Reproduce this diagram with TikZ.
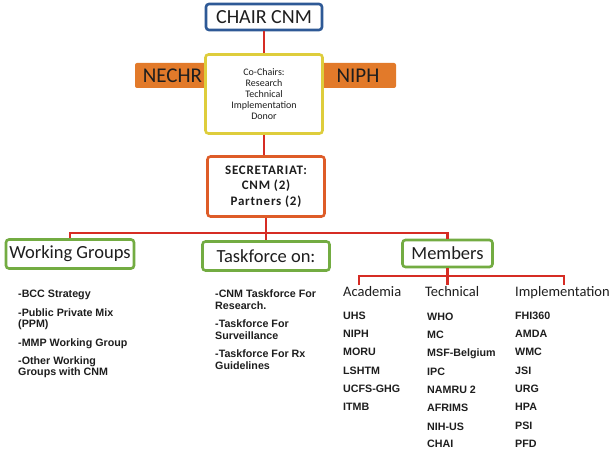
\documentclass[tikz,border=0pt]{standalone}
\usepackage{fontspec}
\setmainfont{Carlito}
\newfontfamily\listfont{Liberation Sans}
\definecolor{cblue}{RGB}{46,89,150}
\definecolor{cred}{RGB}{214,44,36}
\definecolor{corange}{RGB}{226,122,42}
\definecolor{cyellow}{RGB}{222,205,60}
\definecolor{csec}{RGB}{222,92,40}
\definecolor{cgreen}{RGB}{115,172,66}
\definecolor{ctext}{RGB}{30,30,30}
\tikzset{
  box/.style={draw, rounded corners=3pt, line width=2.6pt, fill=white, inner sep=0pt, align=center, text=ctext},
  orangebox/.style={fill=corange, rounded corners=2pt, inner sep=0pt, minimum height=25pt, text=ctext, font=\fontsize{21}{22}\selectfont},
  greenbox/.style={box, draw=cgreen, minimum height=29pt, font=\fontsize{18.5}{20}\selectfont},
  link/.style={draw=cred, line width=2.1pt},
  head/.style={anchor=base west, inner sep=0pt, text=ctext, font=\fontsize{14.5}{16}\selectfont},
  item/.style={anchor=base west, inner sep=0pt, text=ctext, font=\listfont\bfseries\fontsize{10.7}{12}\selectfont},
}
\begin{document}
\begin{tikzpicture}[x=1pt,y=-1pt]
\useasboundingbox[fill=white] (0,0) rectangle (614,449);

% orange side boxes (behind co-chairs box)
\node[orangebox, minimum width=75pt] (nechr) at (172.5,75.5) {NECHR};
\node[orangebox, minimum width=76pt] (niph) at (358,75.5) {NIPH};

% main chain
\node[box, draw=cblue, minimum width=116pt, minimum height=26pt, font=\fontsize{20}{21}\selectfont] (chair) at (264,17) {CHAIR CNM};
\node[box, draw=cyellow, minimum width=117pt, minimum height=79pt, font=\fontsize{10}{11}\selectfont] (cochair) at (264,94) {Co-Chairs:\\Research\\Technical\\Implementation\\Donor};
\node[box, draw=csec, minimum width=117pt, minimum height=60pt, font=\bfseries\fontsize{13}{15.5}\selectfont\addfontfeature{LetterSpace=6}] (sec) at (266,186.5) {SECRETARIAT:\\CNM (2)\\Partners (2)};

\node[greenbox, minimum width=128pt] (wg) at (70,254) {Working Groups};
\node[greenbox, minimum width=127pt] (task) at (266,256) {Taskforce on:};
\node[greenbox, minimum width=90pt, minimum height=27pt] (mem) at (447.5,253.5) {Members};

\coordinate (bus) at (266,233);
\coordinate (ma) at (359,285);
\coordinate (mt) at (447.5,285);
\coordinate (mi) at (564,285);

\draw[link] (chair.south) -- (cochair.north);
\draw[link] (cochair.south) -- (cochair.south |- sec.north);
\draw[link] (sec.south) -- (task.north);
\draw[link] (wg.north) |- (bus) -| (mem.north);
\draw[link] (mem.south) -- (mt);
\draw[link] (ma) |- (mem.south |- 0,276) -| (mi);

% member headers
\node[head] (acad) at (343,297) {Academia};
\node[head] (tech) at (425,297) {Technical};
\node[head] (impl) at (515,297) {Implementation};

% working group list
\node[item] (w1) at (18,298) {-BCC Strategy};
\node[item] (w2) at (18,317) {-Public Private Mix};
\node[item] (w3) at (18,328) {(PPM)};
\node[item] (w4) at (18,346.5) {-MMP Working Group};
\node[item] (w5) at (18,364.5) {-Other Working};
\node[item] (w6) at (18,375.5) {Groups with CNM};

% taskforce list
\node[item] (t1) at (215,297.5) {-CNM Taskforce For};
\node[item] (t2) at (215,309.5) {Research.};
\node[item] (t3) at (215,327.5) {-Taskforce For};
\node[item] (t4) at (215,339.5) {Surveillance};
\node[item] (t5) at (215,357.5) {-Taskforce For Rx};
\node[item] (t6) at (215,369.5) {Guidelines};

% academia
\node[item] (a1) at (343,319.3) {UHS};
\node[item] (a2) at (343,337.6) {NIPH};
\node[item] (a3) at (343,355.9) {MORU};
\node[item] (a4) at (343,374.2) {LSHTM};
\node[item] (a5) at (343,392.5) {UCFS-GHG};
\node[item] (a6) at (343,410.8) {ITMB};

% technical
\node[item] (b1) at (427,320.3) {WHO};
\node[item] (b2) at (427,338.6) {MC};
\node[item] (b3) at (427,356.9) {MSF-Belgium};
\node[item] (b4) at (427,375.2) {IPC};
\node[item] (b5) at (427,393.5) {NAMRU 2};
\node[item] (b6) at (427,411.8) {AFRIMS};
\node[item] (b7) at (427,430.1) {NIH-US};
\node[item] (b8) at (427,447.4) {CHAI};

% implementation
\node[item] (c1) at (515,319.3) {FHI360};
\node[item] (c2) at (515,337.6) {AMDA};
\node[item] (c3) at (515,355.9) {WMC};
\node[item] (c4) at (515,374.2) {JSI};
\node[item] (c5) at (515,392.5) {URG};
\node[item] (c6) at (515,410.8) {HPA};
\node[item] (c7) at (515,429.1) {PSI};
\node[item] (c8) at (515,447.4) {PFD};
\end{tikzpicture}
\end{document}
